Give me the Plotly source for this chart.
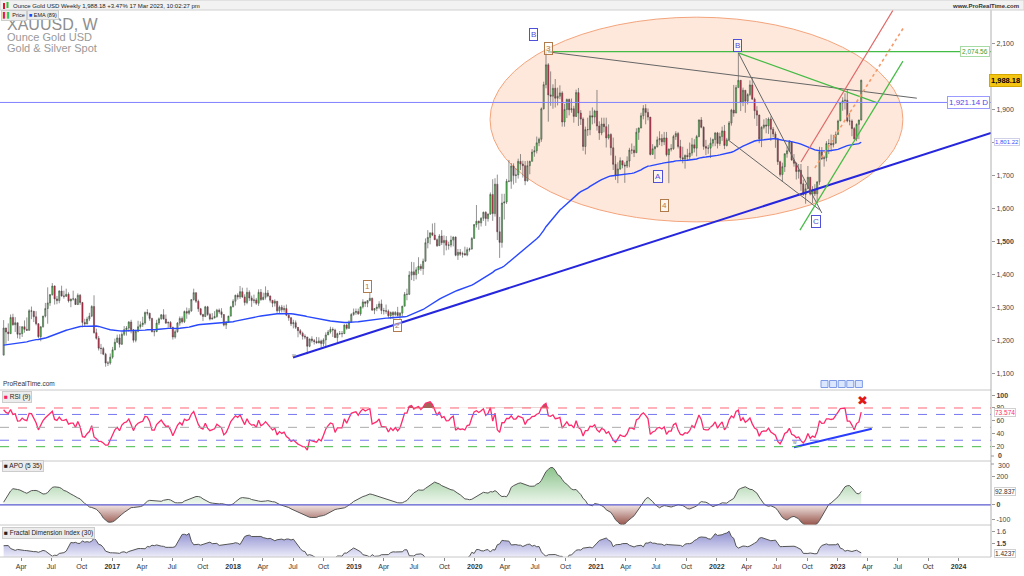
import numpy as np
import pandas as pd
import plotly.graph_objects as go

# ---------------- data (weekly XAUUSD, week starting Monday) ----------------
warmup_close = [1180, 1201, 1173, 1168,
                1157, 1131, 1085, 1094, 1094, 1113, 1160, 1134, 1121, 1104,
                1138, 1145, 1137, 1156, 1177, 1163, 1142, 1088, 1081, 1076,
                1057, 1086, 1075, 1065, 1075, 1061, 1098, 1088, 1097, 1117, 1157]

close_2016 = [1239,1227,1222,1271,1249,1255,1220,1222,1243,1235,1232,1291,1290,1273,1252,1213,1243,1275,1298,1315,1340,1366,1327,1322,1351,1336,1335,1341,1321,1327,1327,1310,1338,1316,1256,1251,1266,1275,1304,1225,1208,1178,1177,1160,1133,1133,1151]
high_2016 = [1263,1240,1253,1280,1282,1272,1252,1245,1244,1262,1271,1296,1304,1280,1290,1254,1244,1276,1315,1362,1342,1375,1368,1336,1353,1367,1352,1358,1347,1327,1352,1330,1344,1342,1318,1267,1273,1285,1308,1338,1237,1215,1191,1182,1164,1139,1162]
low_2016 = [1157,1191,1200,1222,1246,1227,1208,1206,1212,1225,1231,1231,1266,1257,1247,1208,1199,1240,1271,1252,1306,1337,1310,1311,1314,1334,1328,1333,1316,1302,1322,1309,1309,1309,1241,1243,1252,1260,1272,1222,1204,1171,1160,1157,1122,1124,1128]

close_2017 = [1173,1196,1209,1190,1220,1234,1239,1257,1234,1202,1229,1243,1249,1254,1286,1284,1268,1228,1228,1254,1267,1279,1266,1254,1256,1241,1212,1228,1254,1268,1258,1289,1284,1291,1325,1346,1320,1297,1280,1274,1303,1280,1266,1269,1274,1293,1288,1280,1248,1256,1275,1303]
high_2017 = [1182,1207,1219,1220,1226,1245,1245,1260,1264,1236,1234,1261,1259,1273,1289,1296,1285,1270,1236,1264,1271,1281,1296,1280,1259,1260,1243,1234,1257,1274,1274,1292,1301,1299,1326,1358,1340,1325,1300,1282,1306,1306,1285,1284,1290,1297,1298,1299,1280,1260,1276,1306]
low_2017 = [1146,1172,1194,1180,1188,1215,1216,1228,1223,1195,1196,1226,1237,1242,1249,1277,1261,1226,1214,1227,1248,1264,1265,1251,1240,1236,1204,1207,1225,1246,1253,1254,1267,1279,1288,1322,1315,1288,1277,1260,1272,1276,1262,1265,1270,1270,1282,1270,1244,1236,1255,1274]

close_2018 = [1320,1338,1333,1349,1333,1316,1347,1330,1322,1324,1314,1347,1325,1332,1345,1336,1323,1314,1320,1291,1302,1294,1298,1278,1270,1252,1255,1241,1231,1223,1214,1212,1184,1206,1201,1198,1194,1200,1192,1203,1218,1227,1235,1233,1210,1222,1222,1222,1248,1238,1257,1280,1286]
high_2018 = [1326,1340,1344,1366,1361,1341,1361,1353,1337,1340,1330,1356,1357,1346,1365,1354,1337,1323,1326,1319,1307,1309,1307,1310,1281,1272,1264,1262,1242,1236,1228,1220,1211,1207,1214,1206,1212,1211,1204,1208,1226,1233,1243,1241,1237,1225,1230,1230,1250,1252,1262,1284,1298]
low_2018 = [1302,1307,1325,1327,1330,1307,1311,1321,1303,1314,1309,1306,1321,1323,1325,1332,1316,1302,1304,1285,1282,1286,1286,1275,1261,1245,1238,1236,1211,1218,1204,1205,1160,1181,1195,1189,1192,1193,1180,1184,1183,1218,1222,1212,1209,1196,1218,1211,1221,1234,1237,1256,1276]

close_2019 = [1289,1282,1303,1318,1314,1322,1329,1293,1298,1302,1312,1292,1291,1290,1276,1286,1279,1286,1277,1284,1305,1341,1341,1399,1409,1400,1415,1426,1419,1441,1497,1513,1527,1520,1506,1488,1517,1497,1504,1489,1490,1505,1514,1459,1468,1462,1464,1460,1476,1478,1510,1552]
high_2019 = [1298,1298,1303,1326,1320,1322,1346,1331,1299,1311,1320,1325,1300,1310,1295,1289,1290,1290,1303,1287,1306,1348,1358,1411,1439,1438,1423,1453,1433,1449,1510,1535,1527,1555,1557,1510,1523,1535,1519,1517,1500,1518,1516,1516,1478,1478,1470,1485,1483,1482,1514,1553]
low_2019 = [1279,1279,1276,1298,1303,1302,1320,1292,1281,1290,1296,1281,1280,1282,1270,1266,1267,1276,1274,1267,1275,1305,1323,1339,1384,1381,1386,1403,1412,1400,1440,1480,1492,1517,1506,1484,1490,1490,1459,1474,1476,1483,1486,1456,1445,1457,1452,1458,1456,1470,1476,1512]

close_2020 = [1562,1557,1571,1589,1570,1584,1643,1585,1674,1530,1498,1617,1620,1683,1683,1729,1700,1702,1743,1735,1730,1684,1730,1743,1771,1775,1799,1810,1902,1975,2035,1944,1940,1964,1934,1940,1950,1862,1900,1930,1899,1902,1879,1951,1889,1871,1788,1839,1839,1881,1877,1895]
high_2020 = [1611,1564,1574,1591,1592,1585,1649,1689,1692,1703,1575,1645,1645,1690,1747,1738,1737,1722,1751,1765,1745,1744,1745,1745,1780,1789,1818,1815,1906,1984,2075,2040,2015,1976,1992,1966,1973,1955,1917,1933,1933,1933,1911,1960,1965,1898,1876,1848,1875,1896,1906,1899]
low_2020 = [1543,1536,1546,1563,1548,1561,1581,1563,1576,1505,1451,1482,1567,1614,1680,1660,1673,1678,1691,1717,1694,1671,1682,1704,1743,1757,1767,1789,1802,1900,1964,1863,1911,1902,1906,1912,1931,1848,1848,1874,1882,1890,1860,1877,1850,1853,1775,1764,1820,1822,1855,1858]

close_2021 = [1850,1829,1856,1848,1814,1824,1784,1734,1700,1720,1745,1732,1729,1744,1777,1777,1769,1831,1844,1881,1903,1891,1877,1764,1781,1787,1808,1812,1802,1814,1763,1780,1781,1818,1827,1788,1754,1750,1761,1757,1768,1793,1783,1818,1868,1846,1788,1783,1783,1798,1809,1829]
high_2021 = [1959,1864,1875,1875,1875,1855,1828,1815,1760,1740,1755,1745,1740,1758,1784,1797,1790,1843,1845,1890,1913,1916,1903,1877,1795,1790,1818,1834,1825,1832,1832,1782,1795,1823,1834,1832,1808,1787,1764,1781,1800,1814,1810,1823,1870,1877,1849,1808,1793,1815,1812,1831]
low_2021 = [1836,1808,1822,1831,1785,1809,1761,1717,1687,1677,1717,1722,1678,1723,1725,1765,1756,1770,1808,1843,1870,1855,1867,1761,1770,1750,1785,1792,1789,1792,1758,1677,1773,1778,1808,1782,1745,1737,1721,1746,1749,1760,1770,1758,1816,1843,1778,1762,1766,1753,1788,1789]

close_2022 = [1797,1818,1835,1791,1808,1859,1898,1889,1966,1988,1921,1958,1925,1945,1974,1931,1896,1883,1811,1846,1853,1850,1871,1840,1826,1811,1742,1703,1727,1766,1775,1802,1747,1737,1712,1716,1675,1643,1660,1695,1644,1657,1645,1681,1771,1751,1754,1797,1797,1793,1798,1824]
high_2022 = [1832,1830,1848,1853,1814,1865,1902,1974,1974,2070,1989,1966,1940,1949,1988,1998,1936,1910,1884,1849,1870,1874,1876,1879,1847,1833,1814,1745,1739,1767,1788,1807,1803,1765,1740,1735,1735,1688,1675,1729,1688,1668,1674,1682,1787,1786,1760,1804,1810,1824,1823,1833]
low_2022 = [1782,1790,1805,1780,1788,1807,1851,1878,1889,1966,1895,1910,1890,1915,1940,1930,1872,1850,1798,1786,1840,1828,1826,1805,1816,1784,1732,1697,1681,1711,1754,1771,1745,1727,1688,1691,1654,1639,1615,1660,1640,1617,1638,1617,1672,1747,1727,1743,1765,1773,1785,1797]

close_2023 = [1865,1920,1926,1928,1865,1865,1842,1811,1855,1868,1988.18]
high_2023 = [1869,1922,1937,1949,1960,1890,1870,1847,1858,1869,1990]
low_2023 = [1824,1867,1896,1900,1861,1852,1819,1809,1804,1810,1867]

first_week = "2016-02-08"
ema_seed = 1186            # EMA(89) value read at the left edge of the chart

# trend lines / drawings on the price pane: (date0, price0, date1, price1)
blue_trend = ("2018-07-01", 1150, "2024-04-08", 1829)
green_top = ("2020-08-09", 2074.56, "2024-04-08", 2074.56)
grey_fan = ("2020-08-09", 2074, "2023-08-28", 1934)
green_fan = ("2022-03-07", 2071, "2023-05-03", 1919)
dark_bc = ("2022-03-07", 2071, "2022-11-14", 1587)
dark_low = ("2022-02-04", 1808, "2022-11-08", 1596)
red_channel = ("2022-09-12", 1741, "2023-06-17", 2200)
orange_channel = ("2022-10-24", 1723, "2023-07-20", 2149)
green_channel = ("2022-09-09", 1535, "2023-07-17", 2046)
ellipse_box = ("2020-02-16", 1560, "2023-07-17", 2179)
level_d = 1921.14
rsi_trend = ("2022-08-22", 19.1, "2023-04-14", 47.9)
rsi_cross = ("2023-03-18", 91.3)
wave_labels = [  # text, date, price, kind
    ("B", "2020-06-25", 2128, "blue"), ("3", "2020-08-12", 2083, "brown"),
    ("B", "2022-03-03", 2092, "blue"), ("A", "2021-07-07", 1696, "blue"),
    ("4", "2021-07-28", 1611, "brown"), ("C", "2022-10-27", 1560, "blue"),
    ("1", "2019-02-12", 1366, "brown"), ("2", "2019-05-14", 1248, "brown"),
]
x_ticks = pd.date_range("2016-04-01", "2024-01-01", freq="QS")
price_ticks = [1100, 1200, 1300, 1400, 1500, 1600, 1700, 1800, 1900, 2000, 2100]
price_hidden = [1800]      # tick label covered by the EMA value box
rsi_ticks = [20, 40, 60, 80, 100]
apo_ticks = [-100, 0, 200]
fdi_ticks = [1.5, 1.6]

# ---------------- assemble ----------------
close = close_2016 + close_2017 + close_2018 + close_2019 + close_2020 + close_2021 + close_2022 + close_2023
high = high_2016 + high_2017 + high_2018 + high_2019 + high_2020 + high_2021 + high_2022 + high_2023
low = low_2016 + low_2017 + low_2018 + low_2019 + low_2020 + low_2021 + low_2022 + low_2023
n = len(close)
dates = pd.date_range(first_week, periods=n, freq="7D")
open_ = [warmup_close[-1]] + close[:-1]
high = [max(h, o, c) for h, o, c in zip(high, open_, close)]
low = [min(l, o, c) for l, o, c in zip(low, open_, close)]

allc = np.array(warmup_close + close, float)
nw = len(warmup_close)

def ema(x, span, seed):
    a = 2.0 / (span + 1)
    out = np.empty(len(x))
    e = seed
    for i, v in enumerate(x):
        e = e + a * (v - e)
        out[i] = e
    return out

ema89 = ema(np.array(close, float), 89, ema_seed)

d = np.diff(allc)
g = np.clip(d, 0, None)
l_ = np.clip(-d, 0, None)
ag, al = g[:9].mean(), l_[:9].mean()
rsi_all = np.full(len(allc), np.nan)
rsi_all[9] = 100 - 100 / (1 + ag / al)
for i in range(9, len(d)):
    ag = (ag * 8 + g[i]) / 9
    al = (al * 8 + l_[i]) / 9
    rsi_all[i + 1] = 100 - 100 / (1 + ag / al)
rsi = rsi_all[nw:]

s_all = pd.Series(allc)
apo = (s_all.rolling(5).mean() - s_all.rolling(35).mean()).to_numpy()[nw:]

N = 30
fdi_all = np.full(len(allc), np.nan)
for i in range(N - 1, len(allc)):
    w = allc[i - N + 1:i + 1]
    rng = w.max() - w.min()
    dy = np.diff(w) / rng
    L = np.sum(np.sqrt(dy ** 2 + (1.0 / (N - 1)) ** 2))
    fdi_all[i] = 1 + (np.log(L) + np.log(2)) / np.log(2 * (N - 1))
fdi = fdi_all[nw:]

# ---------------- figure ----------------
FONT = "Liberation Sans, Arial, sans-serif"
WP, HP = 991, 557
def px(x): return x / WP
def py(y): return 1 - y / HP

fig = go.Figure()

fig.add_trace(go.Candlestick(
    x=dates, open=open_, high=high, low=low, close=close,
    increasing=dict(fillcolor="#44dd44", line=dict(color="#4a4a4a", width=0.6)),
    decreasing=dict(fillcolor="#e8103c", line=dict(color="#4a4a4a", width=0.6)),
    whiskerwidth=0, xaxis="x", yaxis="y", hoverinfo="skip", name="Price"))
fig.add_trace(go.Scatter(x=dates, y=ema89, mode="lines", line=dict(color="#2848ff", width=1.4),
                         xaxis="x", yaxis="y", hoverinfo="skip"))

# RSI
fig.add_trace(go.Scatter(x=dates, y=[80] * n, mode="lines", line=dict(width=0),
                         xaxis="x2", yaxis="y2", hoverinfo="skip"))
fig.add_trace(go.Scatter(x=dates, y=np.maximum(rsi, 80), mode="lines", line=dict(width=0),
                         fill="tonexty", fillcolor="rgba(140,60,45,0.8)",
                         xaxis="x2", yaxis="y2", hoverinfo="skip"))
fig.add_trace(go.Scatter(x=dates, y=rsi, mode="lines", line=dict(color="#ff2a6d", width=1.3),
                         xaxis="x2", yaxis="y2", hoverinfo="skip"))
fig.add_trace(go.Scatter(x=[rsi_trend[0], rsi_trend[2]], y=[rsi_trend[1], rsi_trend[3]], mode="lines",
                         line=dict(color="#2a3cff", width=2), xaxis="x2", yaxis="y2", hoverinfo="skip"))

# APO
apo_pos = np.where(apo > 0, apo, 0)
apo_neg = np.where(apo < 0, apo, 0)
fig.add_trace(go.Scatter(x=dates, y=apo_pos, mode="lines", line=dict(width=0), fill="tozeroy",
                         fillgradient=dict(type="vertical", start=0, stop=260,
                                           colorscale=[[0, "rgba(240,248,240,1)"], [1, "rgba(140,195,140,1)"]]),
                         xaxis="x3", yaxis="y3", hoverinfo="skip"))
fig.add_trace(go.Scatter(x=dates, y=apo_neg, mode="lines", line=dict(width=0), fill="tozeroy",
                         fillgradient=dict(type="vertical", start=-140, stop=0,
                                           colorscale=[[0, "rgba(150,85,75,1)"], [1, "rgba(242,230,228,1)"]]),
                         xaxis="x3", yaxis="y3", hoverinfo="skip"))
fig.add_trace(go.Scatter(x=dates, y=apo, mode="lines", line=dict(color="#555555", width=1),
                         xaxis="x3", yaxis="y3", hoverinfo="skip"))

# FDI
fig.add_trace(go.Scatter(x=dates, y=fdi, mode="lines", line=dict(color="#555555", width=1), fill="tozeroy",
                         fillgradient=dict(type="vertical", start=1.39, stop=1.62,
                                           colorscale=[[0, "rgba(238,238,250,1)"], [1, "rgba(135,135,205,1)"]]),
                         xaxis="x4", yaxis="y4", hoverinfo="skip"))

shapes = []
def seg(t, color, width=1, dash="solid", yref="y", xref="x"):
    shapes.append(dict(type="line", xref=xref, yref=yref, x0=t[0], y0=t[1], x1=t[2], y1=t[3],
                       line=dict(color=color, width=width, dash=dash)))

shapes.append(dict(type="circle", xref="x", yref="y", x0=ellipse_box[0], y0=ellipse_box[1],
                   x1=ellipse_box[2], y1=ellipse_box[3], fillcolor="rgba(252,214,190,0.55)",
                   line=dict(color="#f4a47c", width=1), layer="below"))
seg(blue_trend, "#2626dd", 2)
seg(green_top, "#44bb44", 1.2)
seg(grey_fan, "#666666", 1)
seg(green_fan, "#44bb44", 1.2)
seg(dark_bc, "#666666", 1)
seg(dark_low, "#666666", 1)
seg(red_channel, "#e06666", 1.2)
seg(orange_channel, "#f59a6a", 1.6, "dot")
seg(green_channel, "#44bb44", 1.2)
shapes.append(dict(type="line", xref="paper", yref="y", x0=0, x1=1, y0=level_d, y1=level_d,
                   line=dict(color="#8080ff", width=1)))
for lv, col in [(80, "#ff6677"), (70, "#7777ee"), (50, "#aaaaaa"), (30, "#7777ee"), (20, "#44bb44")]:
    shapes.append(dict(type="line", xref="paper", yref="y2", x0=0, x1=1, y0=lv, y1=lv,
                       line=dict(color=col, width=1, dash="dash")))
shapes.append(dict(type="line", xref="paper", yref="y3", x0=0, x1=1, y0=0, y1=0,
                   line=dict(color="#5a5ad0", width=1.2)))
# pane separators, borders, header
for yy in [390, 461, 525, 557]:
    shapes.append(dict(type="line", xref="paper", yref="paper", x0=0, x1=1, y0=py(yy), y1=py(yy),
                       line=dict(color="#c8c8c8", width=1)))
shapes.append(dict(type="line", xref="paper", yref="paper", x0=1, x1=1, y0=0, y1=py(10),
                   line=dict(color="#b0b0b0", width=1)))
shapes.append(dict(type="rect", xref="paper", yref="paper", x0=0, x1=px(1024), y0=py(10), y1=py(0),
                   fillcolor="#f2f2f2", line=dict(color="#d0d0d0", width=1)))
shapes.append(dict(type="rect", xref="paper", yref="paper", x0=px(3), x1=px(5), y0=py(9), y1=py(3),
                   fillcolor="#e01030", line=dict(width=0)))
shapes.append(dict(type="rect", xref="paper", yref="paper", x0=px(6.5), x1=px(8.5), y0=py(8), y1=py(2),
                   fillcolor="#30c030", line=dict(width=0)))
for k in range(5):
    x0 = 821 + k * 8.6
    shapes.append(dict(type="rect", xref="paper", yref="paper", x0=px(x0), x1=px(x0 + 7), y0=py(387.5),
                       y1=py(380.5), fillcolor="#dbe6ff", line=dict(color="#7f9be8", width=1)))
# small tick marks for the boundary labels drawn as annotations
for yy in (456, 464):
    shapes.append(dict(type="line", xref="paper", yref="paper", x0=1, x1=px(994), y0=py(yy), y1=py(yy),
                       line=dict(color="#999", width=1)))

ann = []
def txt(text, x, y, size=7, color="#222", xanchor="left", yanchor="middle", **kw):
    d_ = dict(text=text, x=x, y=y, xref=kw.pop("xref", "paper"), yref=kw.pop("yref", "paper"),
              showarrow=False, xanchor=xanchor, yanchor=yanchor,
              font=dict(family=FONT, size=size, color=color))
    d_.update(kw)
    ann.append(d_)

txt("Ounce Gold USD Weekly 1,988.18 +3.47% 17 Mar 2023, 10:02:27 pm", px(11), py(5.5), 6, "#1a1a1a")
txt("<b>www.ProRealTime.com</b>", px(1021), py(5.5), 6, "#333", xanchor="right")
txt("XAUUSD, W", px(5), py(24.5), 16, "#8e8e8e")
txt("Ounce Gold USD", px(5), py(37), 11, "#999999")
txt("Gold &amp; Silver Spot", px(5), py(48), 11, "#999999")
txt("<span style='color:#e01030'>▌</span><span style='color:#30c030'>▌</span> Price", px(1), py(15.5), 5.5, "#222",
    bgcolor="#ececec", bordercolor="#cccccc", borderwidth=1, borderpad=1)
txt("<span style='color:#2040ff'>■</span> EMA (89)", px(27), py(15.5), 5.5, "#222",
    bgcolor="#ececec", bordercolor="#cccccc", borderwidth=1, borderpad=1)
txt("ProRealTime.com", px(1), py(383.5), 6.5, "#333")
txt("<span style='color:#ff1a66'>■</span> RSI (9)", px(2), py(397), 6.5, "#222",
    bgcolor="#ececec", bordercolor="#cccccc", borderwidth=1, borderpad=1)
txt("■ APO (5 35)", px(2), py(465.5), 6.5, "#222",
    bgcolor="#ececec", bordercolor="#cccccc", borderwidth=1, borderpad=1)
txt("■ Fractal Dimension Index (30)", px(2), py(532.5), 6.5, "#222",
    bgcolor="#ececec", bordercolor="#cccccc", borderwidth=1, borderpad=1)

for t, dt, pr, kind in wave_labels:
    col = "#5050d8" if kind == "blue" else "#b07a4a"
    txt(t, dt, pr, 8, col, xanchor="center", xref="x", yref="y", bordercolor=col, borderwidth=1,
        borderpad=1, bgcolor="rgba(255,255,255,0.55)")
txt("w", "2018-07-04", 1158, 5, "#777", xanchor="center", xref="x", yref="y")
txt("w", "2022-08-26", 28, 5, "#777", xanchor="center", xref="x2", yref="y2")
txt("✖", rsi_cross[0], rsi_cross[1], 13, "#e01818", xanchor="center", xref="x2", yref="y2")

# pane-boundary axis labels
txt("<b>0</b>", px(996), py(455.5), 7, "#444")
txt("300", px(996), py(465), 7, "#444")

# right-axis value boxes
txt("<b>1,988.18</b>", px(1022), close[-1], 7.5, "#000", xanchor="right", xref="paper", yref="y",
    bgcolor="#f3c412", bordercolor="#d4a800", borderwidth=1, borderpad=1)
txt("2,074.56", px(990), 2074.56, 6.5, "#3aa03a", xanchor="right", yref="y",
    bgcolor="#ffffff", bordercolor="#a6dba6", borderwidth=1, borderpad=1)
txt("1,921.14 D", px(990), level_d, 8, "#4a4aee", xanchor="right", yref="y",
    bgcolor="#ffffff", bordercolor="#9a9aff", borderwidth=1, borderpad=1)
txt("1,801.22", px(994), float(ema89[-1]), 6, "#3355ff", yref="y",
    bgcolor="#ffffff", bordercolor="#d0d0e8", borderwidth=1, borderpad=0)
txt("73.574", px(994), 73.574, 6.5, "#ff2a6d", yref="y2",
    bgcolor="#ffffff", bordercolor="#d0d0d0", borderwidth=1, borderpad=0)
txt("92.837", px(994), 92.837, 6.5, "#333", yref="y3",
    bgcolor="#ffffff", bordercolor="#d0d0d0", borderwidth=1, borderpad=0)
txt("1.4237", px(994), 1.4237, 6.5, "#333", yref="y4",
    bgcolor="#ffffff", bordercolor="#d0d0d0", borderwidth=1, borderpad=0)

xr = ["2016-01-28", "2024-04-08"]
def xaxis(anchor, show):
    return dict(range=xr, domain=[0, 1], anchor=anchor, showgrid=False, zeroline=False,
                showticklabels=show, ticks="outside" if show else "", ticklen=3, tickcolor="#888",
                tickvals=list(x_ticks) if show else None,
                ticktext=[("<b>%d</b>" % t.year) if t.month == 1 else t.strftime("%b") for t in x_ticks] if show else None,
                tickfont=dict(family=FONT, size=7, color="#333"), rangeslider=dict(visible=False),
                showline=False, fixedrange=True)

def yaxis(anchor, dom, rng, vals, texts):
    return dict(range=rng, domain=dom, anchor=anchor, side="right", showgrid=False, zeroline=False,
                tickvals=vals, ticktext=texts, ticks="outside", ticklen=3, tickcolor="#999",
                tickfont=dict(family=FONT, size=7, color="#444"), showline=False, fixedrange=True)

def fmt_price(v):
    if v in price_hidden:
        return ""
    s = "{:,}".format(v)
    return "<b>%s</b>" % s if v == 1500 else s

fig.update_layout(
    width=1024, height=576, margin=dict(l=0, r=33, t=0, b=19),
    paper_bgcolor="white", plot_bgcolor="white", showlegend=False,
    font=dict(family=FONT),
    xaxis=xaxis("y", False), xaxis2=xaxis("y2", False), xaxis3=xaxis("y3", False), xaxis4=xaxis("y4", True),
    yaxis=yaxis("x", [py(390), py(10)], [1051.6, 2200.7], price_ticks, [fmt_price(v) for v in price_ticks]),
    yaxis2=yaxis("x2", [py(461), py(390)], [-2.2, 107.9], rsi_ticks,
                 [("<b>%d</b>" % v) if v == 100 else str(v) for v in rsi_ticks]),
    yaxis3=yaxis("x3", [py(525), py(461)], [-141, 305.6], apo_ticks,
                 [("<b>%d</b>" % v) if v == 0 else str(v) for v in apo_ticks]),
    yaxis4=yaxis("x4", [0, py(525)], [1.394, 1.6545], fdi_ticks, ["<b>1.5</b>", "1.6"]),
    shapes=shapes, annotations=ann,
)
fig.write_html("out.html")
